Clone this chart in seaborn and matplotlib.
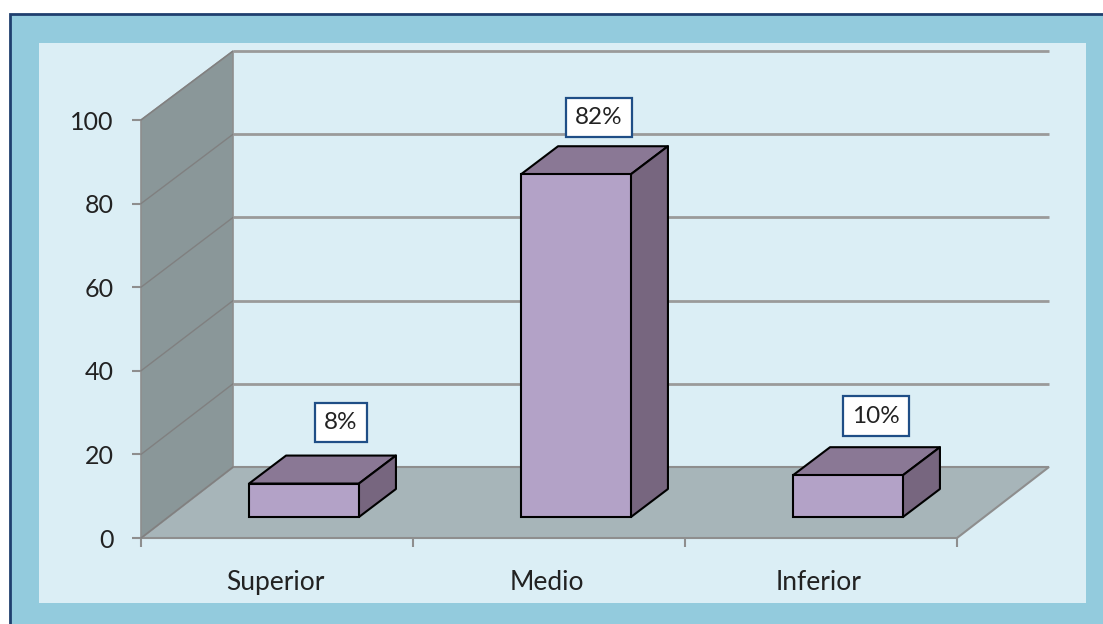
import matplotlib
matplotlib.use("Agg")
import matplotlib.pyplot as plt
from matplotlib.patches import Rectangle, Polygon
from matplotlib.transforms import ScaledTranslation
import seaborn as sns
import pandas as pd

categories = ["Superior", "Medio", "Inferior"]
values = [8, 82, 10]
labels = ["8%", "82%", "10%"]
y_ticks = [0, 20, 40, 60, 80, 100]

W, H = 1103, 624
sns.set_style("white")
plt.rcParams["font.family"] = ["Lato", "DejaVu Sans"]

fig = plt.figure(figsize=(W / 100, H / 100), dpi=100)
fig.patch.set_facecolor("white")


def fig_rect(x0, y0, x1, y1, **kw):
    fig.add_artist(Rectangle((x0 / W, 1 - y1 / H), (x1 - x0) / W, (y1 - y0) / H,
                             transform=fig.transFigure, zorder=-5, **kw))


fig_rect(9.5, 13.5, W + 5, H + 5, facecolor="#93CBDD", edgecolor="#1F3F6E", linewidth=2)
fig_rect(39, 43, 1086, 603, facecolor="#DBEEF5", edgecolor="none")

L, R, T, B = 141, 957, 120, 538
ax = fig.add_axes([L / W, 1 - B / H, (R - L) / W, (B - T) / H])
ax.patch.set_alpha(0)

df = pd.DataFrame({"zona": categories, "valor": values})
sns.barplot(data=df, x="zona", y="valor", ax=ax, color="#B3A2C7", saturation=1,
            width=0.404, edgecolor="black", linewidth=1.5, zorder=6)
ax.set_xlim(-0.5, 2.5)
ax.set_ylim(0, 100)

px_x = 3.0 / (R - L)
px_y = 100.0 / (B - T)
FLOOR_DX = 92 * px_x
FLOOR_DY = 71 * px_y
BAR_DX = 37 * px_x
BAR_DY = 28 * px_y
LIFT = 21 * px_y
SHIFT = 27 * px_x
GRAY = "#8E8E8E"


def back(v):
    return v * 0.995 + FLOOR_DY


# floor and side wall
ax.add_patch(Polygon([(-0.5, 0), (-0.5 + FLOOR_DX, back(0)), (2.5 + FLOOR_DX, back(0)), (2.5, 0)],
                     closed=True, facecolor="#A7B5B9", edgecolor=GRAY, lw=1.5, clip_on=False, zorder=1))
ax.add_patch(Polygon([(-0.5, 0), (-0.5, 100), (-0.5 + FLOOR_DX, back(100)), (-0.5 + FLOOR_DX, back(0))],
                     closed=True, facecolor="#8A9799", edgecolor=GRAY, lw=1.2, clip_on=False, zorder=1))
for v in y_ticks:
    ax.plot([-0.5, -0.5 + FLOOR_DX], [v, back(v)], color="#808080", lw=1.0, clip_on=False, zorder=2)
    if v > 0:
        ax.plot([-0.5 + FLOOR_DX, 2.5 + FLOOR_DX], [back(v), back(v)], color="#9A9A9A", lw=2,
                clip_on=False, zorder=2, solid_capstyle="butt")

# bars: shift front faces and add top and side faces
bars = [p for p in ax.patches if p.get_zorder() == 6]
label_off = [(37, 61), (23, 57), (28, 59)]
for p, lab, off in zip(bars, labels, label_off):
    p.set_x(p.get_x() + SHIFT)
    p.set_y(LIFT)
    x0, x1 = p.get_x(), p.get_x() + p.get_width()
    y0, y1 = p.get_y(), p.get_y() + p.get_height()
    ax.add_patch(Polygon([(x0, y1), (x0 + BAR_DX, y1 + BAR_DY), (x1 + BAR_DX, y1 + BAR_DY), (x1, y1)],
                         closed=True, facecolor="#8A7895", edgecolor="black", lw=1.5,
                         joinstyle="round", clip_on=False, zorder=5))
    ax.add_patch(Polygon([(x1, y0), (x1, y1), (x1 + BAR_DX, y1 + BAR_DY), (x1 + BAR_DX, y0 + BAR_DY)],
                         closed=True, facecolor="#77667F", edgecolor="black", lw=1.5,
                         joinstyle="round", clip_on=False, zorder=5))
    ax.annotate(lab, xy=((x0 + x1) / 2, y1), xytext=(off[0] * 0.72, off[1] * 0.72),
                textcoords="offset points", ha="center", va="center",
                fontsize=17.5, color="#222222", zorder=8, annotation_clip=False,
                bbox=dict(boxstyle="square,pad=0.38", facecolor="white", edgecolor="#1F4E86", linewidth=1.6))

# axes furniture
for s in ax.spines.values():
    s.set_visible(False)
ax.set_xlabel("")
ax.set_ylabel("")
ax.set_yticks(y_ticks)
ax.set_xticks(range(len(categories)))
ax.set_xticklabels(categories)
ax.set_xticks([-0.5, 0.5, 1.5, 2.5], minor=True)
ax.tick_params(axis="y", which="major", left=True, length=6.5, width=1.5, color=GRAY, pad=13,
               labelsize=18, labelcolor="#222222")
ax.tick_params(axis="x", which="major", bottom=False, length=0, pad=23, labelsize=19, labelcolor="#222222")
ax.tick_params(axis="x", which="minor", bottom=True, length=6.5, width=1.5, color=GRAY)
shift_left = ScaledTranslation(-2 / 100, 0, fig.dpi_scale_trans)
for t in ax.get_xticklabels():
    t.set_transform(t.get_transform() + shift_left)

fig.savefig("out.png", dpi=100)
